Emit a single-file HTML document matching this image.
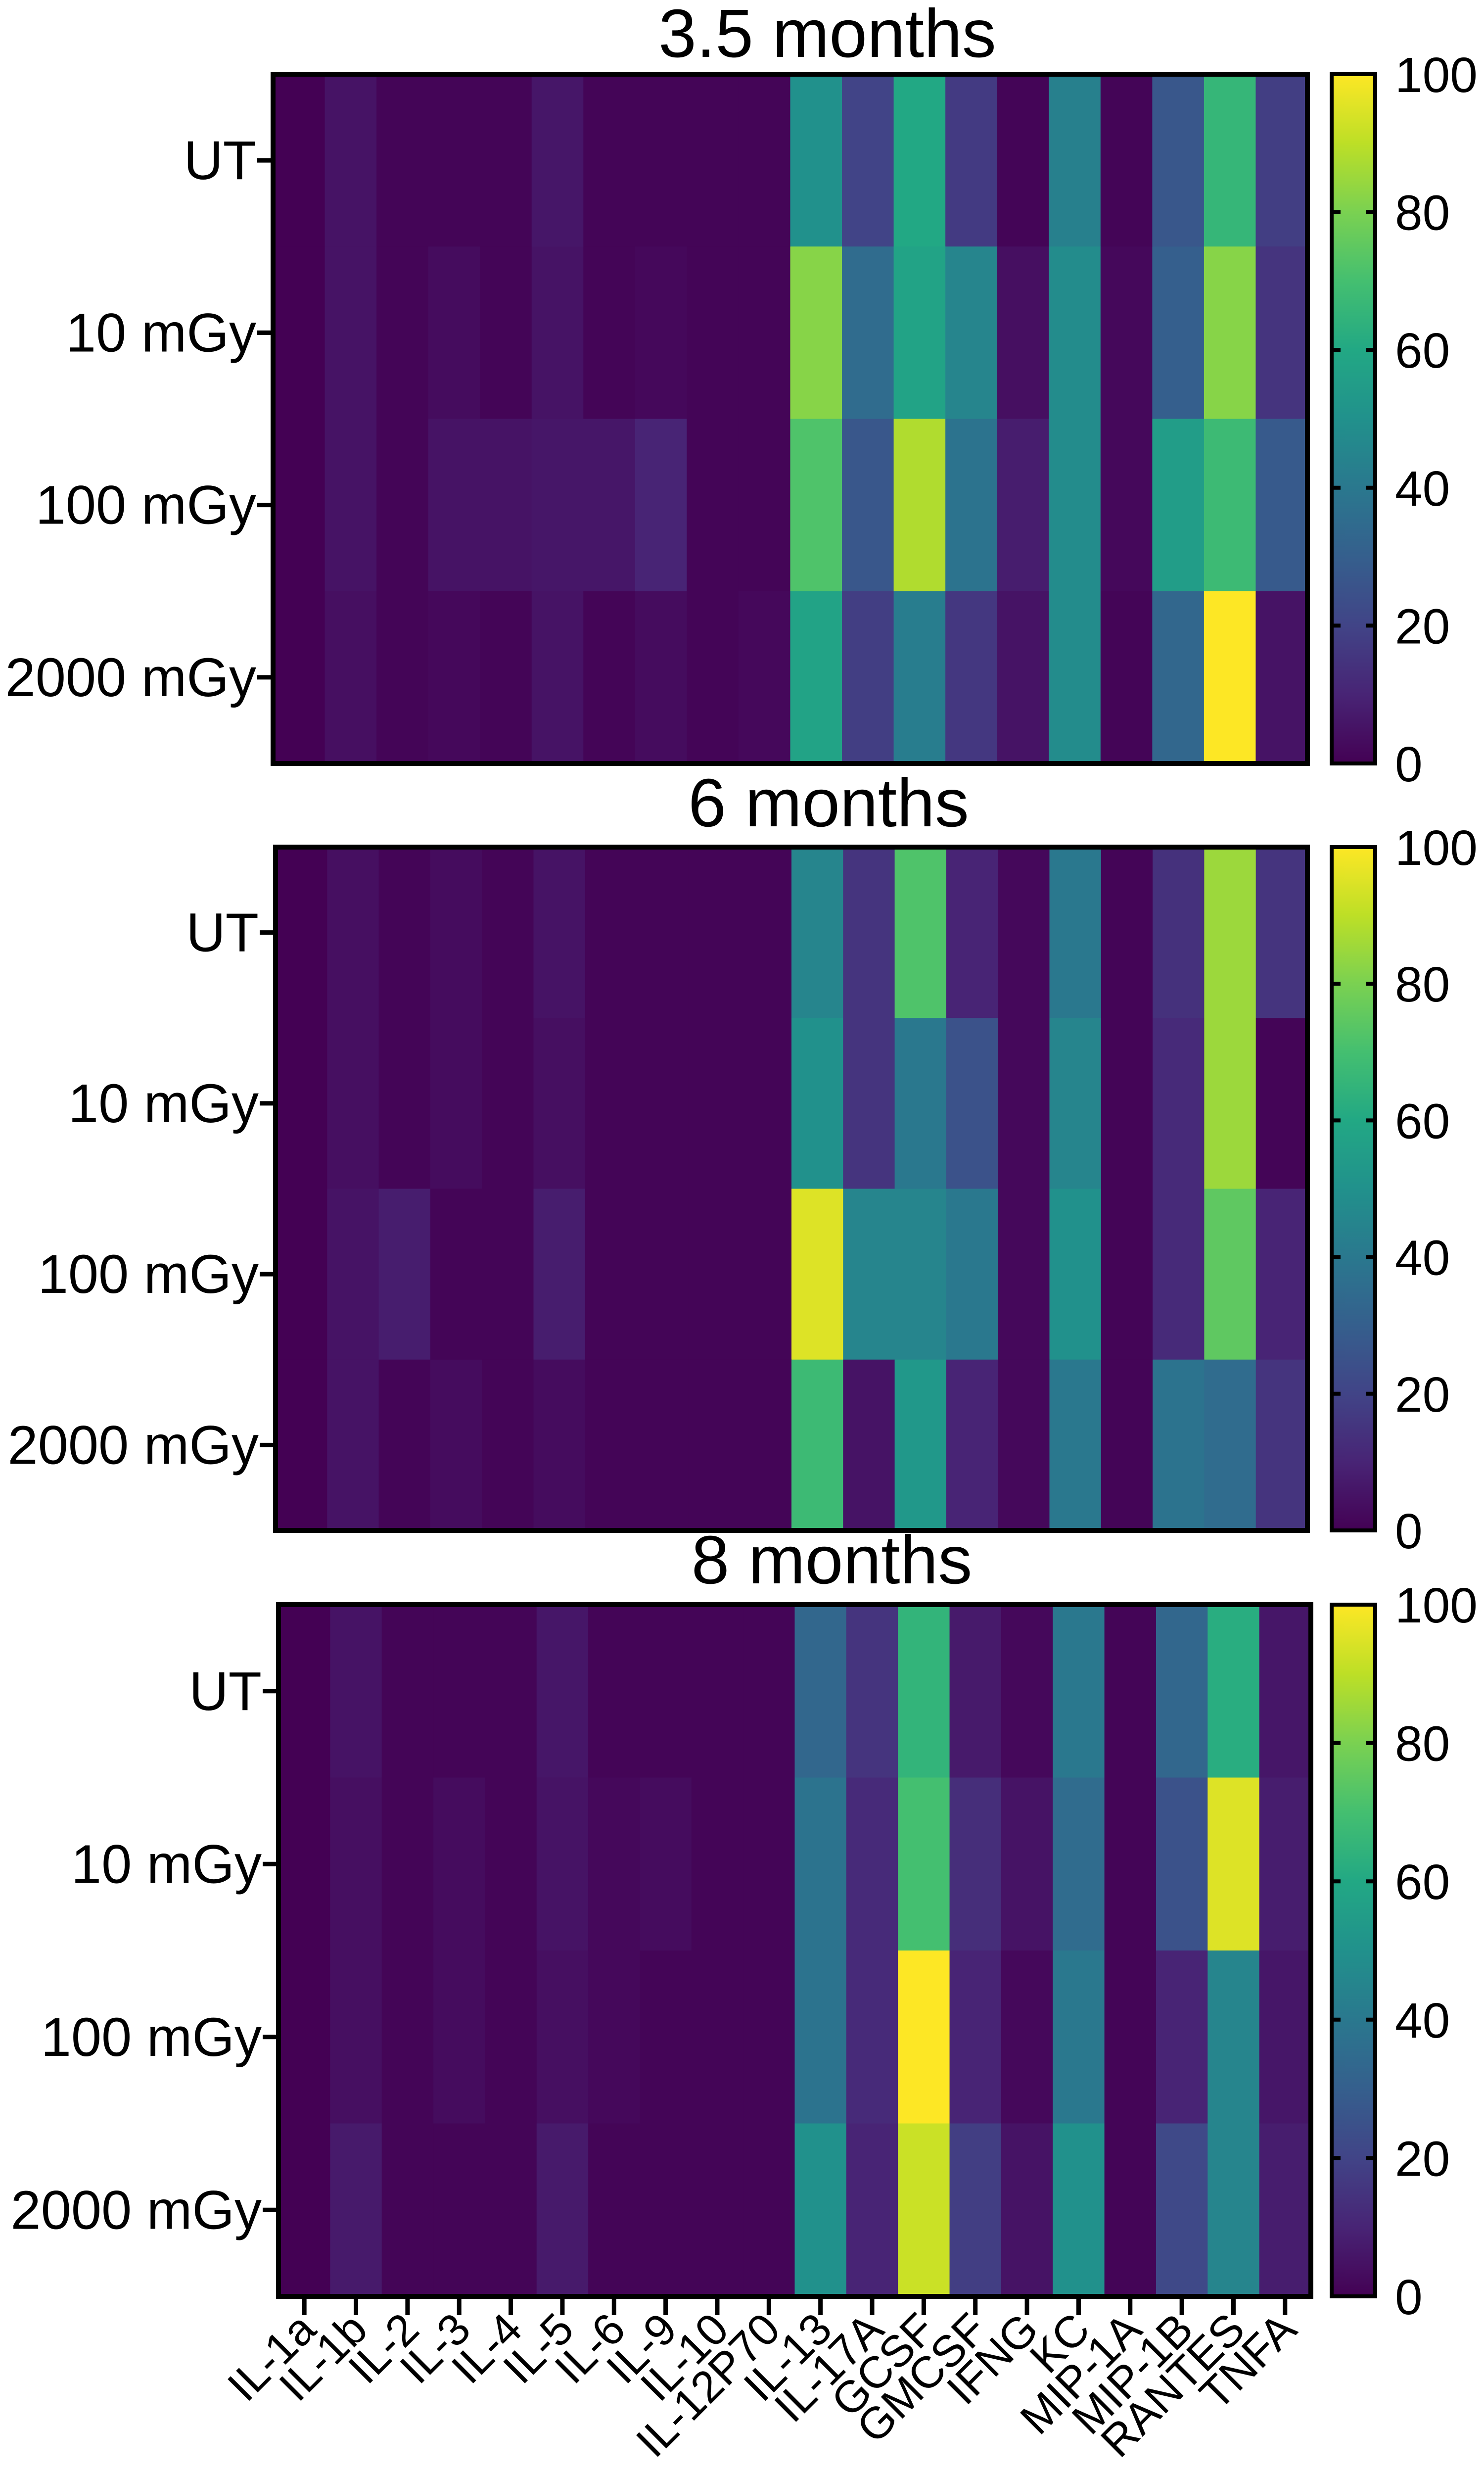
<!DOCTYPE html>
<html><head><meta charset="utf-8"><style>
html,body{margin:0;padding:0;background:#fff;overflow:hidden;}
svg{display:block;font-family:"Liberation Sans",Arial,sans-serif;}
</style></head><body>
<svg id="chart" width="3000" height="5005" viewBox="0 0 3000 5005" xmlns="http://www.w3.org/2000/svg">
<defs>
<linearGradient id="vir" x1="0" y1="1" x2="0" y2="0">
<stop offset="0" stop-color="#440154"/><stop offset="0.1" stop-color="#482475"/><stop offset="0.2" stop-color="#414487"/><stop offset="0.3" stop-color="#355f8d"/><stop offset="0.4" stop-color="#2a788e"/><stop offset="0.5" stop-color="#21918c"/><stop offset="0.6" stop-color="#22a884"/><stop offset="0.7" stop-color="#44bf70"/><stop offset="0.8" stop-color="#7ad151"/><stop offset="0.9" stop-color="#bddf26"/><stop offset="1" stop-color="#fde725"/>
</linearGradient>
</defs>
</svg>
<script>
const cytokines = ["IL-1a","IL-1b","IL-2","IL-3","IL-4","IL-5","IL-6","IL-9","IL-10","IL-12P70","IL-13","IL-17A","GCSF","GMCSF","IFNG","KC","MIP-1A","MIP-1B","RANTES","TNFA"];
const doses = ["UT","10 mGy","100 mGy","2000 mGy"];
const panelTitles = ["3.5 months","6 months","8 months"];
const colorTicks = [0,20,40,60,80,100];
const values35 = [
 [0,5,1,1,1,6,1,1,1,1,50,20,60,17,1,43,1,27,66,18],
 [0,5,1,3,1,5,1,2,1,1,82,35,58,45,4,48,2,30,82,15],
 [0,5,1,5,5,6,6,10,1,1,72,27,88,38,8,48,2,55,68,28],
 [0,4,1,2,1,5,1,3,1,2,58,18,42,16,5,48,1,33,100,5]
];
const values6 = [
 [0,4,1,3,1,5,1,1,1,1,45,15,72,10,2,40,1,14,85,15],
 [0,4,1,3,1,4,1,1,1,1,50,15,40,25,2,45,1,12,85,1],
 [0,5,8,1,1,8,1,1,1,1,95,45,45,40,2,50,1,12,75,10],
 [0,5,1,3,1,3,1,1,1,1,68,5,53,10,2,40,1,38,35,15]
];
const values8 = [
 [0,5,1,1,1,6,1,1,1,1,33,15,65,7,2,40,1,33,62,6],
 [0,4,1,3,1,5,2,3,1,1,38,12,70,13,5,35,1,25,95,8],
 [0,4,1,3,1,4,2,1,1,1,38,12,100,10,2,40,1,10,45,6],
 [0,7,1,1,1,7,1,1,1,1,50,10,92,18,5,50,1,22,45,8]
];
const panelValues = [values35, values6, values8];

const NS = "http://www.w3.org/2000/svg";
const svg = document.getElementById("chart");
const stops = [[68,1,84],[72,36,117],[65,68,135],[53,95,141],[42,120,142],[33,145,140],[34,168,132],[68,191,112],[122,209,81],[189,223,38],[253,231,37]];
function viridis(v){
  let t = Math.max(0, Math.min(1, v/100))*10;
  let i = Math.min(9, Math.floor(t)), f = t-i;
  const a = stops[i], b = stops[i+1];
  return "rgb("+a.map((c,k)=>Math.round(c+(b[k]-c)*f)).join(",")+")";
}
function el(tag, attrs, parent){
  const e = document.createElementNS(NS, tag);
  for (const k in attrs) e.setAttribute(k, attrs[k]);
  (parent||svg).appendChild(e);
  return e;
}
const layouts = [
  {x0:552,x1:2643,y0:150,y1:1543,ty:115},
  {x0:557,x1:2643,y0:1712,y1:3093,ty:1670},
  {x0:563,x1:2650,y0:3243,y1:4641,ty:3200}
];
layouts.forEach((L, p) => {
  const g = el("g", {});
  
  
  const data = panelValues[p];
  const nC = cytokines.length, nR = doses.length;
  const cw = (L.x1-L.x0)/nC, rh = (L.y1-L.y0)/nR;
  const xs = c => L.x0 + c*cw;
  const ys = r => L.y0 + r*rh;
  data.forEach((row, r) => row.forEach((v, c) => {
    const rect = el("rect", {x:xs(c), y:ys(r), width:cw+0.8, height:rh+0.8, fill:viridis(v)}, g);
    
    
  }));
  const frame = el("rect", {x:L.x0, y:L.y0, width:L.x1-L.x0, height:L.y1-L.y0, fill:"none", stroke:"#000", "stroke-width":10}, g);
  
  
  const title = el("text", {x:(L.x0+L.x1)/2+75, y:L.ty, "text-anchor":"middle", "font-size":138}, g);
  title.textContent = panelTitles[p];
  
  
  doses.forEach((d, r) => {
    const cy = ys(r) + rh/2;
    el("line", {x1:L.x0-32, x2:L.x0, y1:cy, y2:cy, stroke:"#000", "stroke-width":9}, g);
    const t = el("text", {x:L.x0-34, y:cy+38, "text-anchor":"end", "font-size":110}, g);
    t.textContent = d;
    
    
  });
  const cbx = 2692, cbw = 88;
  const cb = el("rect", {x:cbx, y:L.y0, width:cbw, height:L.y1-L.y0, fill:"url(#vir)", stroke:"#000", "stroke-width":8}, g);
  
  
  colorTicks.forEach(tv => {
    const ty = L.y1 - (tv/100)*(L.y1-L.y0);
    if (tv>0 && tv<100){
      el("line", {x1:cbx, x2:cbx+18, y1:ty, y2:ty, stroke:"#000", "stroke-width":8}, g);
      el("line", {x1:cbx+cbw-18, x2:cbx+cbw, y1:ty, y2:ty, stroke:"#000", "stroke-width":8}, g);
    }
    const t = el("text", {x:2820, y:ty+36, "font-size":100}, g);
    t.textContent = tv;
    
    
  });
  if (p === 2){
    cytokines.forEach((name, c) => {
      const cx = xs(c) + cw/2;
      el("line", {x1:cx, x2:cx, y1:L.y1, y2:L.y1+38, stroke:"#000", "stroke-width":9}, g);
      const t = el("text", {x:0, y:0, "text-anchor":"end", "font-size":90, transform:"translate("+(cx+28)+","+(L.y1+72)+") rotate(-45)"}, g);
      t.textContent = name;
      
      
    });
  }
});
</script>
</body></html>
